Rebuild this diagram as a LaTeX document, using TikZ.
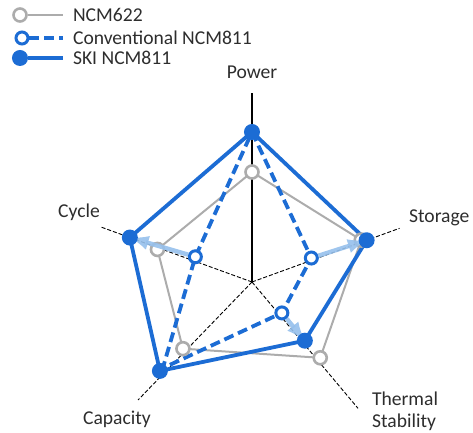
\documentclass[tikz,border=0pt]{standalone}
\usepackage{fontspec}
\setmainfont{Carlito}
\definecolor{skiblue}{RGB}{28,108,212}
\definecolor{ncmgray}{RGB}{172,172,172}
\definecolor{clair}{RGB}{150,192,236}
\definecolor{texte}{RGB}{45,45,45}
\begin{document}
\begin{tikzpicture}[x=0.5pt,y=0.5pt,every node/.style={font=\fontsize{9.8pt}{11pt}\selectfont,text=texte}]
\tikzstyle{axe} = [black,line width=0.45pt,dash pattern=on 2pt off 1pt];
\tikzstyle{skiline} = [skiblue,line width=1.9pt,line join=round];
\tikzstyle{convline} = [skiblue,line width=1.9pt,dash pattern=on 5pt off 2.5pt];
\tikzstyle{ncmline} = [ncmgray,line width=1pt];
\tikzstyle{ski} = [fill=skiblue,circle,inner sep=0pt,minimum size=8pt];
\tikzstyle{conv} = [draw=skiblue,fill=white,circle,line width=1.5pt,inner sep=0pt,minimum size=6pt];
\tikzstyle{ncm} = [draw=ncmgray,fill=white,circle,line width=1.3pt,inner sep=0pt,minimum size=6.5pt];
\tikzstyle{fleche} = [->,>=latex,clair,line width=2.2pt,opacity=0.9];

\useasboundingbox (-252,-151) rectangle (221,282);

% axes
\coordinate (O) at (0,0);
\foreach \nom/\a/\r in {power/90/189,storage/20/157,thermal/-50/165,capacity/-134/164,cycle/160/161}{
	\coordinate (\nom) at (\a:\r);
}
\draw[black,line width=0.6pt] (O)--(power);
\foreach \nom in {storage,thermal,capacity,cycle}{
	\draw[axe] (O)--(\nom);
}

\node (lpower) at (0,210) {Power};
\node[right] (lstorage) at (150,64) {Storage};
\node (lcycle) at (-173,70) {Cycle};
\node (lcapacity) at (-135,-137) {Capacity};
\node[right,align=left] (lthermal) at (113,-129) {Thermal\\Stability};

% valeurs
\foreach \nom/\a/\r in {pw/90/110,st/21/117,th/-48/102,ca/-136/96,cy/161/100}{
	\coordinate (n\nom) at (\a:\r);
}
\foreach \nom/\a/\r in {pw/90/150,st/22/64,th/-46/43,ca/-136/124,cy/156/62}{
	\coordinate (c\nom) at (\a:\r);
}
\foreach \nom/\a/\r in {pw/90/150,st/20/122,th/-48/79,ca/-136/128,cy/160/130}{
	\coordinate (s\nom) at (\a:\r);
}

\draw[ncmline] (npw)--(nst)--(nth)--(nca)--(ncy)--cycle;
\draw[convline] (cpw)--(cst)--(cth)--(cca)--(ccy)--cycle;
\draw[skiline] (spw)--(sst)--(sth)--(sca)--(scy)--cycle;

\foreach \nom in {pw,st,th,ca,cy}{
	\node[ncm] (N\nom) at (n\nom) {};
}
\foreach \nom in {st,th,cy}{
	\node[conv] (C\nom) at (c\nom) {};
}
\draw[fleche] (Ccy)--(scy);
\draw[fleche] (Cst)--(sst);
\draw[fleche] (Cth)--(sth);
\foreach \nom in {pw,st,th,ca,cy}{
	\node[ski] (S\nom) at (s\nom) {};
}

% legende
\node[ncm] (leg1) at (-232,267) {};
\coordinate (fin1) at (-189,267);
\draw[ncmline] (leg1)--(fin1);
\node[right] (txt1) at (-186,267) {NCM622};
\node[conv] (leg2) at (-230,244) {};
\coordinate (fin2) at (-189,244);
\draw[convline] (leg2)--(fin2);
\node[right] (txt2) at (-186,244) {Conventional NCM811};
\node[ski] (leg3) at (-232,224) {};
\coordinate (fin3) at (-189,224);
\draw[skiline] (leg3)--(fin3);
\node[right] (txt3) at (-186,224) {SKI NCM811};

\end{tikzpicture}
\end{document}
